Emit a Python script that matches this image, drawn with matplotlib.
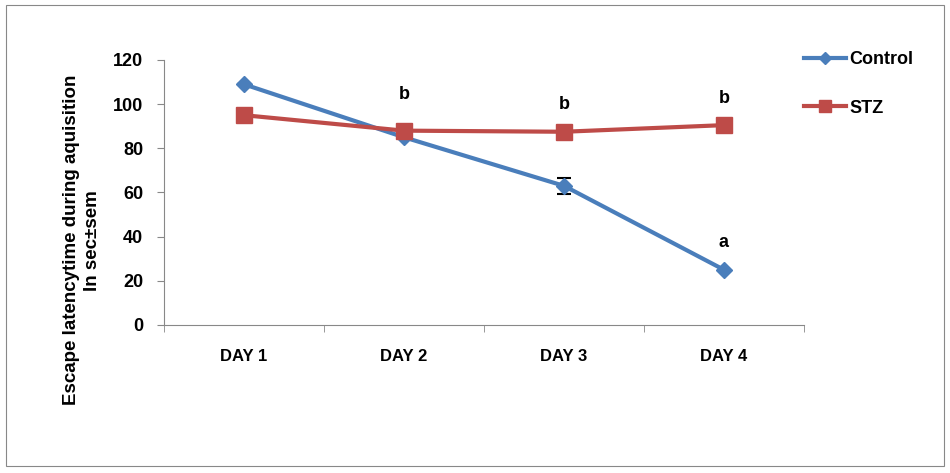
import matplotlib.pyplot as plt
from matplotlib.patches import Rectangle

days = ["DAY 1", "DAY 2", "DAY 3", "DAY 4"]
control = [109, 85, 63, 25]
control_err = [0, 0, 3.6, 0]
stz = [95, 88, 87.5, 90.5]
letters = ["", "b", "b", "b"]
letter_y = [0, 104.5, 100, 102.5]
control_letter = ["", "", "", "a"]
control_letter_y = [0, 0, 0, 37.5]

plt.rcParams['font.family'] = ['Liberation Sans', 'DejaVu Sans']
plt.rcParams['font.weight'] = 'bold'

fig = plt.figure(figsize=(9.5, 4.73), dpi=100)
fig.patches.append(Rectangle((0.006, 0.014), 0.988, 0.975, transform=fig.transFigure,
                             fill=False, edgecolor='#888888', linewidth=0.8))
ax = fig.add_axes([0.1726, 0.3129, 0.6737, 0.5603])

x = list(range(len(days)))
ax.errorbar(x, control, yerr=control_err, fmt='none', ecolor='black',
            elinewidth=1.5, capsize=5, capthick=1.5, zorder=2)
ax.plot(x, control, color='#4a7ebb', linewidth=3, marker='D', markersize=8,
        label='Control', zorder=3)
ax.plot(x, stz, color='#be4b48', linewidth=3, marker='s', markersize=11,
        label='STZ', zorder=4)

for i in x:
    if letters[i]:
        ax.text(i, letter_y[i], letters[i], ha='center', va='center', fontsize=13, fontweight='bold')
    if control_letter[i]:
        ax.text(i, control_letter_y[i], control_letter[i], ha='center', va='center',
                fontsize=13, fontweight='bold')

ax.set_xlim(-0.5, 3.5)
ax.set_ylim(0, 120)
ax.set_yticks(range(0, 121, 20))
ax.set_xticks(x)
ax.set_xticklabels(days, fontsize=12, fontweight='bold')
ax.set_xticks([-0.5, 0.5, 1.5, 2.5, 3.5], minor=True)
ax.tick_params(axis='x', which='major', length=0, pad=17)
ax.tick_params(axis='x', which='minor', length=5, direction='out', color='#888888')
ax.tick_params(axis='y', length=5, direction='out', color='#888888', labelsize=13, pad=10)
for lab in ax.get_yticklabels():
    lab.set_fontweight('bold')

for s in ['top', 'right']:
    ax.spines[s].set_visible(False)
for s in ['left', 'bottom']:
    ax.spines[s].set_color('#888888')
    ax.spines[s].set_linewidth(0.8)

ax.set_ylabel("Escape latencytime during aquisition\nIn sec\u00b1sem", fontsize=13.5,
              fontweight='bold', linespacing=1.25)
ax.yaxis.set_label_coords(-0.099, 0.32)

ax.legend(loc='upper left', bbox_to_anchor=(0.975, 1.095), frameon=False,
          prop={'weight': 'bold', 'size': 13}, labelspacing=1.75, handlelength=2.3,
          handletextpad=0.2, markerscale=0.8)

fig.savefig("out.png", dpi=100)
